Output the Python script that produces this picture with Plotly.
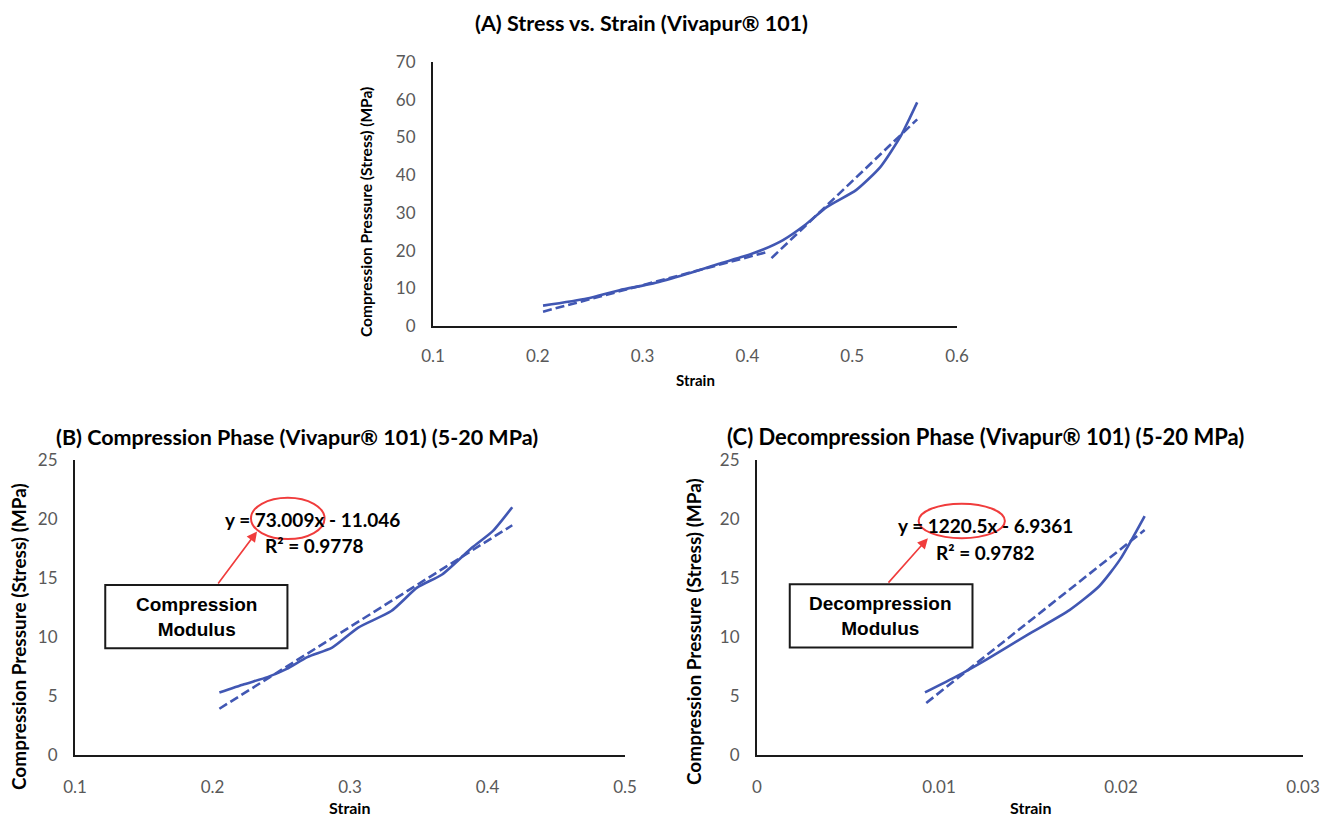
import plotly.graph_objects as go

# ---------------- data ----------------
# Panel A: stress vs strain
a_strain = [0.205, 0.247, 0.278, 0.310, 0.342, 0.374, 0.396, 0.415, 0.434, 0.455, 0.476, 0.504, 0.527, 0.546, 0.555, 0.562]
a_stress = [5.4, 7.3, 9.5, 11.3, 13.8, 16.6, 18.4, 20.3, 22.8, 26.8, 31.6, 36.1, 42.2, 50.2, 55.2, 59.3]
a_trend1_x = [0.205, 0.420]
a_trend1_y = [3.8, 19.7]
a_trend2_x = [0.423, 0.562]
a_trend2_y = [18.0, 54.8]

# Panel B: compression phase
b_strain = [0.205, 0.223, 0.240, 0.254, 0.269, 0.287, 0.306, 0.330, 0.349, 0.367, 0.389, 0.404, 0.418]
b_stress = [5.3, 6.0, 6.6, 7.3, 8.3, 9.1, 10.8, 12.2, 14.2, 15.3, 17.6, 19.0, 21.0]
b_trend_x = [0.205, 0.418]
b_trend_y = [3.92, 19.47]

# Panel C: decompression phase
c_strain = [0.00923, 0.01096, 0.01258, 0.01488, 0.01719, 0.01880, 0.01996, 0.02130]
c_stress = [5.3, 6.66, 8.07, 10.2, 12.3, 14.3, 16.6, 20.25]
c_trend_x = [0.0093, 0.0213]
c_trend_y = [4.41, 19.06]

a_xticks = [0.1, 0.2, 0.3, 0.4, 0.5, 0.6]
a_yticks = [0, 10, 20, 30, 40, 50, 60, 70]
b_xticks = [0.1, 0.2, 0.3, 0.4, 0.5]
bc_yticks = [0, 5, 10, 15, 20, 25]
c_xticks = [0, 0.01, 0.02, 0.03]

titles = ["(A) Stress vs. Strain (Vivapur® 101)",
          "(B) Compression Phase (Vivapur® 101) (5-20 MPa)",
          "(C) Decompression Phase (Vivapur® 101) (5-20 MPa)"]
ylab = "Compression Pressure (Stress) (MPa)"
xlab = "Strain"
eq_b = ["y = 73.009x - 11.046", "R² = 0.9778"]
eq_c = ["y = 1220.5x - 6.9361", "R² = 0.9782"]
box_b = "Compression<br>Modulus"
box_c = "Decompression<br>Modulus"

BLUE = "#4157B3"
RED = "#F03C3C"
FONT = "Lato"
W, H = 1322, 817

fig = go.Figure()

def add_pair(x, y, tx_list, ty_list, xa, ya):
    fig.add_trace(go.Scatter(x=x, y=y, mode="lines", xaxis=xa, yaxis=ya,
                             line=dict(color=BLUE, width=2.6, shape="spline", smoothing=0.6),
                             showlegend=False, hoverinfo="skip"))
    for tx, ty in zip(tx_list, ty_list):
        fig.add_trace(go.Scatter(x=tx, y=ty, mode="lines", xaxis=xa, yaxis=ya,
                                 line=dict(color=BLUE, width=2.6, dash="9px,4px"),
                                 showlegend=False, hoverinfo="skip"))

add_pair(a_strain, a_stress, [a_trend1_x, a_trend2_x], [a_trend1_y, a_trend2_y], "x", "y")
add_pair(b_strain, b_stress, [b_trend_x], [b_trend_y], "x2", "y2")
add_pair(c_strain, c_stress, [c_trend_x], [c_trend_y], "x3", "y3")

def px_x(p):
    return p / W

def px_y(p):
    return 1 - p / H

tickfont = dict(family=FONT, size=17, color="#595959")
axcommon = dict(showgrid=False, zeroline=False, showline=True, linecolor="#1a1a1a",
                linewidth=2, ticks="", tickfont=tickfont, automargin=False, fixedrange=True)

# panel domains in pixels
A = dict(x0=433, x1=957, y0=62, y1=326)
B = dict(x0=75, x1=625, y0=460, y1=755)
C = dict(x0=757, x1=1303, y0=460, y1=755)

def dom(P):
    return [px_x(P["x0"]), px_x(P["x1"])], [px_y(P["y1"]), px_y(P["y0"])]

ax_dx, ax_dy = dom(A)
bx_dx, bx_dy = dom(B)
cx_dx, cx_dy = dom(C)

fig.update_layout(
    width=W, height=H, margin=dict(l=0, r=0, t=0, b=0, autoexpand=False),
    paper_bgcolor="white", plot_bgcolor="white", showlegend=False,
    font=dict(family=FONT),
    xaxis=dict(domain=ax_dx, range=[0.1, 0.6], tickvals=a_xticks, ticktext=[str(v) for v in a_xticks],
               anchor="y", ticklabelstandoff=14, **axcommon),
    yaxis=dict(domain=ax_dy, range=[0, 70], tickvals=a_yticks, anchor="x", ticklabelstandoff=12, **axcommon),
    xaxis2=dict(domain=bx_dx, range=[0.1, 0.5], tickvals=b_xticks, ticktext=[str(v) for v in b_xticks],
                anchor="y2", ticklabelstandoff=16, **axcommon),
    yaxis2=dict(domain=bx_dy, range=[0, 25], tickvals=bc_yticks, anchor="x2", ticklabelstandoff=12, **axcommon),
    xaxis3=dict(domain=cx_dx, range=[0, 0.03], tickvals=c_xticks, ticktext=["0", "0.01", "0.02", "0.03"],
                anchor="y3", ticklabelstandoff=16, **axcommon),
    yaxis3=dict(domain=cx_dy, range=[0, 25], tickvals=bc_yticks, anchor="x3", ticklabelstandoff=12, **axcommon),
)

ann = []

def ptext(text, xp, yp, size, angle=0, xanchor="center"):
    ann.append(dict(text=text, x=px_x(xp), y=px_y(yp), xref="paper", yref="paper",
                    xanchor=xanchor, yanchor="middle", textangle=angle, showarrow=False,
                    font=dict(family=FONT, size=size, color="black")))

# titles
ptext("<b>" + titles[0] + "</b>", 641, 23, 21.5)
ptext("<b>" + titles[1] + "</b>", 54, 437, 21.5, xanchor="left")
ptext("<b>" + titles[2] + "</b>", 725, 437, 22, xanchor="left")
# axis titles
ptext("<b>" + xlab + "</b>", 695, 380, 15)
ptext("<b>" + ylab + "</b>", 366, 212, 15.5, angle=-90)
ptext("<b>" + xlab + "</b>", 350, 807, 16)
ptext("<b>" + ylab + "</b>", 18, 637, 19, angle=-90)
ptext("<b>" + xlab + "</b>", 1030, 807, 16)
ptext("<b>" + ylab + "</b>", 693, 632, 19, angle=-90)

# equations
eqfont = dict(family=FONT, size=19, color="black")
def dtext(text, x, y, xr, yr, font):
    ann.append(dict(text=text, x=x, y=y, xref=xr, yref=yr, xanchor="center", yanchor="middle",
                    showarrow=False, font=font, align="center"))

dtext("<b>" + eq_b[0] + "</b>", 0.2726, 20.0, "x2", "y2", eqfont)
dtext("<b>" + eq_b[1] + "</b>", 0.2738, 17.74, "x2", "y2", eqfont)
dtext("<b>" + eq_c[0] + "</b>", 0.01258, 19.42, "x3", "y3", eqfont)
dtext("<b>" + eq_c[1] + "</b>", 0.01255, 17.15, "x3", "y3", eqfont)

# box texts
boxfont = dict(family="Liberation Sans", size=19, color="black")
dtext("<b>" + box_b + "</b>", 0.188, 11.7, "x2", "y2", boxfont)
dtext("<b>" + box_c + "</b>", 0.0068, 11.8, "x3", "y3", boxfont)

# arrows
ann.append(dict(x=0.2324, y=18.95, ax=0.2033, ay=14.4, xref="x2", yref="y2", axref="x2", ayref="y2",
                text="", showarrow=True, arrowhead=2, arrowsize=1.3, arrowwidth=1.6, arrowcolor=RED))
ann.append(dict(x=0.00939, y=18.37, ax=0.00715, ay=14.48, xref="x3", yref="y3", axref="x3", ayref="y3",
                text="", showarrow=True, arrowhead=2, arrowsize=1.3, arrowwidth=1.6, arrowcolor=RED))

fig.update_layout(annotations=ann)

shapes = [
    dict(type="circle", xref="x2", yref="y2", x0=0.228, x1=0.2815, y0=18.3, y1=21.8,
         line=dict(color=RED, width=2)),
    dict(type="circle", xref="x3", yref="y3", x0=0.00888, x1=0.01362, y0=18.37, y1=21.3,
         line=dict(color=RED, width=2)),
    dict(type="rect", xref="x2", yref="y2", x0=0.122, x1=0.2545, y0=9.04, y1=14.4,
         line=dict(color="#1a1a1a", width=2), fillcolor="rgba(0,0,0,0)", layer="below"),
    dict(type="rect", xref="x3", yref="y3", x0=0.0018, x1=0.01184, y0=9.10, y1=14.48,
         line=dict(color="#1a1a1a", width=2), fillcolor="rgba(0,0,0,0)", layer="below"),
]
fig.update_layout(shapes=shapes)

fig.write_html("out.html", config={"displayModeBar": False},
               post_script="document.body.style.margin='0';document.body.style.overflow='hidden';")
